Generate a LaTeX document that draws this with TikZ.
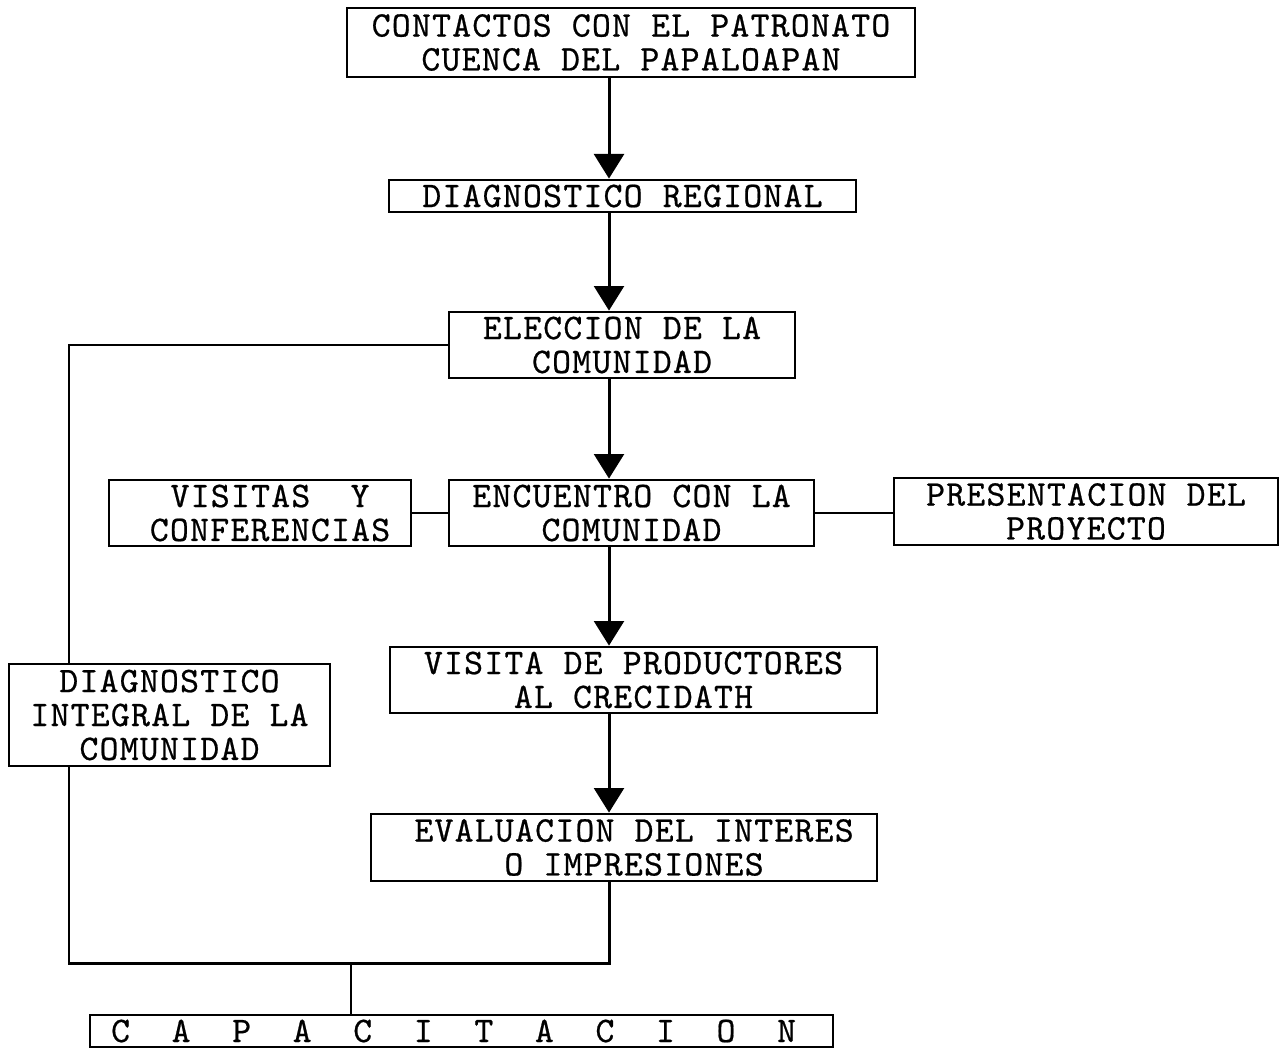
\documentclass[tikz,border=0pt]{standalone}
\usepackage{fontspec}
\usetikzlibrary{arrows.meta}
% typewriter face for the chart, slightly opened up and thickened
\newfontfamily\chartface{lmmono10-regular.otf}[LetterSpace=3.4,FakeBold=0.6]
\newcommand\chartfont{\chartface\fontsize{20.5}{19.3}\selectfont}
% widely spaced letters of the last box
\newcommand\gap{\hspace{23.7pt}}
\begin{document}
\begin{tikzpicture}[x=0.02cm,y=-0.02cm,
  every node/.style={font=\chartfont},
  stepbox/.style 2 args={draw,line width=1.6pt,align=center,inner sep=0pt,
    minimum width=#1*0.02cm,minimum height=#2*0.02cm},
  link/.style={line width=1.7pt},
  flow/.style={link,-{Triangle[width=17pt,length=14pt]}}]
\useasboundingbox (0,0) rectangle (1285,1048);
% guide lines of the chart
\coordinate (spine) at (609,0);
\coordinate (lx) at (69,0);
\coordinate (join) at (351,963);
% boxes
\node[stepbox={568}{69}] (contactos) at (631,42.5)
  {CONTACTOS CON EL PATRONATO\\CUENCA DEL PAPALOAPAN};
\node[stepbox={467}{32}] (diagreg) at (622.5,196) {DIAGNOSTICO REGIONAL};
\node[stepbox={346}{66}] (eleccion) at (622,345) {ELECCION DE LA\\COMUNIDAD};
\node[stepbox={365}{66}] (encuentro) at (631.5,513) {ENCUENTRO CON LA\\COMUNIDAD};
\node[stepbox={302}{66}] (visitas) at (260,513) {\ VISITAS~~Y\\\ CONFERENCIAS};
\node[stepbox={384}{67}] (presentacion) at (1086,511.5) {PRESENTACION DEL\\PROYECTO};
\node[stepbox={487}{66}] (visitaprod) at (633.5,680) {VISITA DE PRODUCTORES\\AL CRECIDATH};
\node[stepbox={321}{102}] (diagint) at (169.5,715) {DIAGNOSTICO\\INTEGRAL DE LA\\COMUNIDAD};
\node[stepbox={506}{67}] (evaluacion) at (624,847.5) {\ EVALUACION DEL INTERES\\\ O IMPRESIONES};
\node[stepbox={743}{32}] (capacitacion) at (461.5,1031)
  {C\gap A\gap P\gap A\gap C\gap I\gap T\gap A\gap C\gap I\gap O\gap N\kern 9pt};
% main flow
\draw[flow] (contactos.south -| spine) -- (diagreg.north -| spine);
\draw[flow] (diagreg.south -| spine) -- (eleccion.north -| spine);
\draw[flow] (eleccion.south -| spine) -- (encuentro.north -| spine);
\draw[flow] (encuentro.south -| spine) -- (visitaprod.north -| spine);
\draw[flow] (visitaprod.south -| spine) -- (evaluacion.north -| spine);
% side links of the meeting
\draw[link] (visitas.east) -- (encuentro.west |- visitas.east);
\draw[link] (encuentro.east) -- (presentacion.west |- encuentro.east);
% left branch and closing join
\draw[link] (eleccion.west) -| (lx |- diagint.north);
\draw[link] (lx |- diagint.south) -- (lx |- join) -- (spine |- join)
  -- (spine |- evaluacion.south);
\draw[link] (join) -- (join |- capacitacion.north);
\end{tikzpicture}
\end{document}
